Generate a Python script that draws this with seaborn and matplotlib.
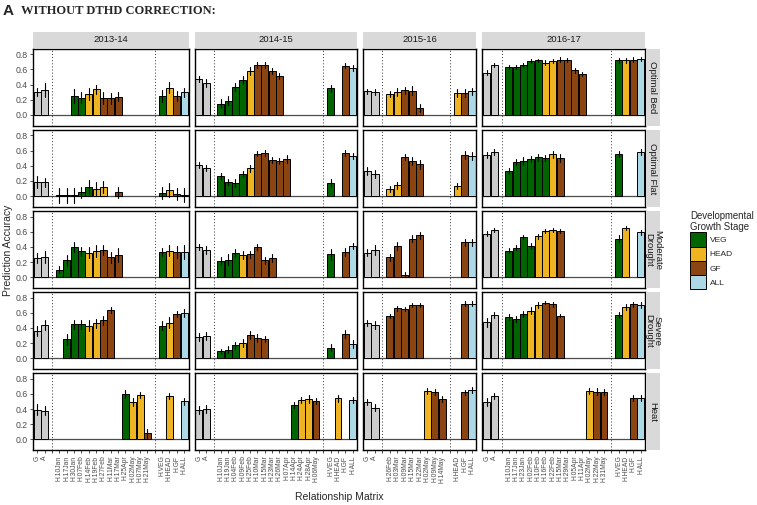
import matplotlib
matplotlib.use("Agg")
import matplotlib.pyplot as plt
import numpy as np
import pandas as pd
import seaborn as sns
from matplotlib.patches import Patch

sns.set_theme(style="white")
plt.rcParams["font.family"] = ["Liberation Sans", "DejaVu Sans"]

# ---------------- data ----------------
years = ["2013-14", "2014-15", "2015-16", "2016-17"]
env_labels = ["Optimal Bed", "Optimal Flat", "Moderate\nDrought", "Severe\nDrought", "Heat"]

dates_1314 = ["H.10Jan", "H.17Jan", "H.30Jan", "H.07Feb", "H.14Feb", "H.19Feb", "H.27Feb",
              "H.11Mar", "H.17Mar", "H.25Apr", "H.02May", "H.07May", "H.21May"]
dates_1415 = ["H.10Jan", "H.19Jan", "H.04Feb", "H.09Feb", "H.25Feb", "H.10Mar", "H.15Mar",
              "H.23Mar", "H.26Mar", "H.07Apr", "H.14Apr", "H.24Apr", "H.28Apr", "H.06May"]
dates_1516 = ["H.26Feb", "H.03Mar", "H.09Mar", "H.15Mar", "H.22Mar", "H.02May", "H.09May", "H.14May"]
dates_1617 = ["H.10Jan", "H.17Jan", "H.23Jan", "H.02Feb", "H.10Feb", "H.16Feb", "H.22Feb",
              "H.15Mar", "H.29Mar", "H.05Apr", "H.11Apr", "H.02May", "H.22May", "H.31May"]
stagecats_4 = ["H.VEG", "H.HEAD", "H.GF", "H.ALL"]
stagecats_3 = ["H.HEAD", "H.GF", "H.ALL"]

na = None
# values: [G, A] + dates + stage categories ; stage strings cover the dates (V=VEG, H=HEAD, F=GF)
# ---- Optimal Bed
bed_1314_acc = [.30, .33, na, na, .25, .23, .28, .34, .22, .22, .24, na, na, na, na, .25, .36, .25, .30]
bed_1314_err = [.05, .09, na, na, .09, .07, .08, .06, .08, .07, .06, na, na, na, na, .08, .07, .06, .06]
bed_1314_stg = "--VVHHFFF----"
bed_1415_acc = [.47, .42, .15, .19, .37, .46, .58, .66, .66, .58, .52, na, na, na, na, na, .35, na, .65, .62]
bed_1415_err = [.04, .05, .06, .06, .05, .05, .05, .04, .04, .04, .04, na, na, na, na, na, .05, na, .03, .04]
bed_1415_stg = "VVVVHFFFF-----"
bed_1516_acc = [.31, .30, .28, .30, .325, .32, .09, na, na, na, .29, .29, .31]
bed_1516_err = [.03, .04, .04, .05, .05, .06, .05, na, na, na, .05, .05, .05]
bed_1516_stg = "HHFFF---"
bed_1617_acc = [.56, .66, .63, .63, .66, .71, .72, .69, .71, .73, .725, .59, .54, na, na, na, .72, .72, .73, .74]
bed_1617_err = [.03, .03, .03, .03, .03, .03, .02, .03, .03, .03, .03, .03, .03, na, na, na, .03, .03, .03, .03]
bed_1617_stg = "VVVVVHHFFFF---"
# ---- Optimal Flat
flat_1314_acc = [.185, .185, .01, .01, .01, .05, .12, .09, .12, na, .05, na, na, na, na, .04, .08, .03, .01]
flat_1314_err = [.08, .06, .10, .10, .10, .07, .09, .09, .08, na, .07, na, na, na, na, .08, .09, .08, .09]
flat_1314_stg = "VVVVVHH-F----"
flat_1415_acc = [.41, .37, .26, .18, .17, .29, .365, .56, .57, .48, .46, .49, na, na, na, na, .17, na, .57, .53]
flat_1415_err = [.04, .04, .05, .04, .05, .04, .05, .03, .04, .04, .04, .05, na, na, na, na, .05, na, .04, .04]
flat_1415_stg = "VVVVHFFFFF----"
flat_1516_acc = [.33, .29, .09, .14, .52, .46, .42, na, na, na, .13, .54, .53]
flat_1516_err = [.05, .05, .04, .05, .04, .05, .06, na, na, na, .04, .05, .05]
flat_1516_stg = "HHFFF---"
flat_1617_acc = [.54, .585, .33, .45, .46, .49, .51, .50, .55, .50, na, na, na, na, na, na, .55, na, na, .585]
flat_1617_err = [.04, .04, .04, .04, .05, .04, .05, .04, .05, .05, na, na, na, na, na, na, .04, na, na, .04]
flat_1617_stg = "VVVVVVHF------"
# ---- Moderate Drought
mod_1314_acc = [.255, .27, .10, .22, .40, .34, .325, .35, .36, .26, .29, na, na, na, na, .33, .35, .33, .33]
mod_1314_err = [.07, .08, .05, .07, .07, .06, .07, .08, .07, .07, .09, na, na, na, na, .05, .07, .08, .09]
mod_1314_stg = "VVVVHHFFF----"
mod_1415_acc = [.40, .36, .21, .23, .32, .29, .30, .40, .22, .25, na, na, na, na, na, na, .30, na, .33, .41]
mod_1415_err = [.04, .05, .05, .07, .05, .05, .05, .04, .05, .05, na, na, na, na, na, na, .07, na, .05, .04]
mod_1415_stg = "VVVHFFFF------"
mod_1516_acc = [.325, .36, .26, .41, .035, .51, .55, na, na, na, na, .46, .46]
mod_1516_err = [.05, .07, .05, .05, .03, .04, .04, na, na, na, na, .05, .05]
mod_1516_stg = "FFFFF---"
mod_1617_acc = [.575, .62, .35, .39, .53, .41, .54, .61, .62, .61, na, na, na, na, na, na, .51, .65, na, .59]
mod_1617_err = [.03, .03, .03, .03, .03, .04, .03, .03, .03, .03, na, na, na, na, na, na, .04, .03, na, .03]
mod_1617_stg = "VVVVHHHF------"
# ---- Severe Drought
sev_1314_acc = [.36, .44, na, .25, .45, .45, .43, .46, .50, .64, na, na, na, na, na, .43, .47, .59, .60]
sev_1314_err = [.07, .07, na, .07, .06, .06, .07, .06, .06, .04, na, na, na, na, na, .06, .07, .04, .05]
sev_1314_stg = "-VVVHHFF-----"
sev_1415_acc = [.28, .29, .09, .115, .17, .20, .31, .27, .25, na, na, na, na, na, na, na, .14, na, .32, .19]
sev_1415_err = [.05, .05, .03, .05, .05, .05, .05, .05, .04, na, na, na, na, na, na, na, .05, na, .05, .05]
sev_1415_stg = "VVVHFFF-------"
sev_1516_acc = [.47, .44, .56, .66, .65, .70, .70, na, na, na, na, .72, .72]
sev_1516_err = [.04, .05, .03, .03, .03, .03, .03, na, na, na, na, .03, .03]
sev_1516_stg = "FFFFF---"
sev_1617_acc = [.475, .57, .54, .52, .59, .63, .70, .73, .71, .56, na, na, na, na, na, na, .57, .68, .71, .70]
sev_1617_err = [.06, .04, .04, .04, .04, .04, .04, .02, .03, .02, na, na, na, na, na, na, .04, .04, .03, .04]
sev_1617_stg = "VVVHHFFF------"
# ---- Heat
heat_1314_acc = [.39, .38, na, na, na, na, na, na, na, na, na, .60, .49, .59, .08, na, .57, na, .50]
heat_1314_err = [.07, .06, na, na, na, na, na, na, na, na, na, .05, .05, .04, .06, na, .04, na, .05]
heat_1314_stg = "---------VHHF"
heat_1415_acc = [.39, .40, na, na, na, na, na, na, na, na, na, na, .45, .52, .53, .50, na, .54, na, .52]
heat_1415_err = [.05, .05, na, na, na, na, na, na, na, na, na, na, .04, .04, .05, .04, na, .05, na, .04]
heat_1415_stg = "----------VHHF"
heat_1516_acc = [.49, .42, na, na, na, na, na, .64, .63, .53, na, .62, .65]
heat_1516_err = [.04, .05, na, na, na, na, na, .04, .04, .04, na, .03, .04]
heat_1516_stg = "-----HFF"
heat_1617_acc = [.49, .57, na, na, na, na, na, na, na, na, na, na, na, .64, .63, .63, na, na, .55, .55]
heat_1617_err = [.05, .04, na, na, na, na, na, na, na, na, na, na, na, .04, .05, .04, na, na, .04, .04]
heat_1617_stg = "-----------HFF"

year_dates = {"2013-14": dates_1314, "2014-15": dates_1415, "2015-16": dates_1516, "2016-17": dates_1617}
year_stagecats = {"2013-14": stagecats_4, "2014-15": stagecats_4, "2015-16": stagecats_3, "2016-17": stagecats_4}
panels = [
    [(bed_1314_acc, bed_1314_err, bed_1314_stg), (bed_1415_acc, bed_1415_err, bed_1415_stg),
     (bed_1516_acc, bed_1516_err, bed_1516_stg), (bed_1617_acc, bed_1617_err, bed_1617_stg)],
    [(flat_1314_acc, flat_1314_err, flat_1314_stg), (flat_1415_acc, flat_1415_err, flat_1415_stg),
     (flat_1516_acc, flat_1516_err, flat_1516_stg), (flat_1617_acc, flat_1617_err, flat_1617_stg)],
    [(mod_1314_acc, mod_1314_err, mod_1314_stg), (mod_1415_acc, mod_1415_err, mod_1415_stg),
     (mod_1516_acc, mod_1516_err, mod_1516_stg), (mod_1617_acc, mod_1617_err, mod_1617_stg)],
    [(sev_1314_acc, sev_1314_err, sev_1314_stg), (sev_1415_acc, sev_1415_err, sev_1415_stg),
     (sev_1516_acc, sev_1516_err, sev_1516_stg), (sev_1617_acc, sev_1617_err, sev_1617_stg)],
    [(heat_1314_acc, heat_1314_err, heat_1314_stg), (heat_1415_acc, heat_1415_err, heat_1415_stg),
     (heat_1516_acc, heat_1516_err, heat_1516_stg), (heat_1617_acc, heat_1617_err, heat_1617_stg)],
]

palette = {"GA": "#CCCCCC", "VEG": "#006400", "HEAD": "#EEB422", "GF": "#8B4513", "ALL": "#ADD8E6"}
letter_stage = {"V": "VEG", "H": "HEAD", "F": "GF"}


def panel_frame(year, acc, err, stg):
    cats = ["G", "A"] + year_dates[year] + year_stagecats[year]
    stages = ["GA", "GA"] + [letter_stage.get(s, "-") for s in stg] + [c.split(".")[1] for c in year_stagecats[year]]
    rows = []
    for c, v, e, s in zip(cats, acc, err, stages):
        if v is None:
            continue
        rows.append((c, v - e, s))
        rows.append((c, v + e, s))
    return pd.DataFrame(rows, columns=["matrix", "acc", "stage"])


# ---------------- layout (pixels) ----------------
W, H = 757, 505
fig = plt.figure(figsize=(W / 100, H / 100), dpi=100)

def fa(x0, y0, w, h):
    return fig.add_axes([x0 / W, 1 - (y0 + h) / H, w / W, h / H])

n_units = [len(["G", "A", " "] + year_dates[y] + ["  "] + year_stagecats[y]) + 1.2 for y in years]
left0, right0, gapx = 33, 645, 6
unit = (right0 - left0 - 3 * gapx) / sum(n_units)
col_x = []
x = left0
for nu in n_units:
    col_x.append((x, nu * unit))
    x += nu * unit + gapx
top0, row_h, gapy = 49, 76.6, 4.5
row_y = [top0 + i * (row_h + gapy) for i in range(5)]
ylo, yhi = -0.14, 0.87

tick_col = "#4D4D4D"
for r in range(5):
    for c, year in enumerate(years):
        acc, err, stg = panels[r][c]
        df = panel_frame(year, acc, err, stg)
        order = ["G", "A", " "] + year_dates[year] + ["  "] + year_stagecats[year]
        x0, w = col_x[c]
        ax = fa(x0, row_y[r], w, row_h)
        ax.axhline(0, color="#4D4D4D", lw=0.9, zorder=0)
        for blank in [" ", "  "]:
            ax.axvline(order.index(blank), color="#333333", lw=0.7, ls=(0, (1, 2.2)), zorder=0)
        sns.barplot(data=df, x="matrix", y="acc", hue="stage", order=order, palette=palette,
                    dodge=False, estimator="mean", errorbar=("pi", 100), capsize=0,
                    err_kws={"color": "black", "linewidth": 0.8}, width=0.95,
                    edgecolor="black", linewidth=0.7, saturation=1, legend=False, ax=ax)
        ax.set_xlim(-0.6, len(order) - 0.4)
        ax.set_ylim(ylo, yhi)
        ax.set_xlabel("")
        ax.set_ylabel("")
        for sp in ax.spines.values():
            sp.set_visible(True)
            sp.set_color("black")
            sp.set_linewidth(1.0)
        ax.set_yticks([0, 0.2, 0.4, 0.6, 0.8])
        if c == 0:
            ax.set_yticklabels(["0.0", "0.2", "0.4", "0.6", "0.8"], fontsize=6.3, color=tick_col)
            ax.tick_params(axis="y", length=2.5, width=0.6, color="#333333", pad=1.5, left=True)
        else:
            ax.set_yticklabels([])
            ax.tick_params(axis="y", length=0)
        ax.set_xticks(range(len(order)))
        if r == 4:
            ax.set_xticklabels(order, rotation=90, fontsize=4.9, color=tick_col, va="top", ha="center")
            ax.tick_params(axis="x", length=2.5, width=0.6, color="#333333", pad=1.5, bottom=True)
        else:
            ax.set_xticklabels([])
            ax.tick_params(axis="x", length=0)
        # top strip
        if r == 0:
            sa = fa(x0, 32, w, 16)
            sa.set_facecolor("#D9D9D9")
            sa.set_xticks([]); sa.set_yticks([])
            for sp in sa.spines.values():
                sp.set_visible(False)
            sa.text(0.5, 0.5, year, ha="center", va="center", fontsize=6.8, color="#1A1A1A",
                    transform=sa.transAxes)
    # right strip
    sa = fa(646, row_y[r], 14, row_h)
    sa.set_facecolor("#D9D9D9")
    sa.set_xticks([]); sa.set_yticks([])
    for sp in sa.spines.values():
        sp.set_visible(False)
    sa.text(0.5, 0.5, env_labels[r], ha="center", va="center", rotation=-90, fontsize=6.8,
            color="#1A1A1A", transform=sa.transAxes, linespacing=0.95)

# titles and axis labels
fig.text(3 / W, 1 - 4 / H, "A", fontsize=11, fontweight="bold", va="top", ha="left")
fig.text(21 / W, 1 - 5 / H, "WITHOUT DTHD CORRECTION:", fontsize=9, fontweight="bold",
         family=["Liberation Serif", "DejaVu Serif"], va="top", ha="left")
fig.text(8 / W, 1 - 250 / H, "Prediction Accuracy", rotation=90, fontsize=7.5, ha="center", va="center")
fig.text(((left0 + right0) / 2) / W, 1 - 497 / H, "Relationship Matrix", fontsize=7.5,
         ha="center", va="center")

# legend
handles = [Patch(facecolor=palette[k], edgecolor="black", linewidth=0.7) for k in ["VEG", "HEAD", "GF", "ALL"]]
leg = fig.legend(handles, ["VEG", "HEAD", "GF", "ALL"], loc="upper left",
                 bbox_to_anchor=(684 / W, 1 - 205 / H), frameon=False, fontsize=6.0,
                 title="Developmental\nGrowth Stage", title_fontsize=6.9,
                 handlelength=2.0, handleheight=2.25, labelspacing=0.0, handletextpad=0.4,
                 borderpad=0.2)
leg._legend_box.align = "left"

fig.savefig("out.png", dpi=100)
